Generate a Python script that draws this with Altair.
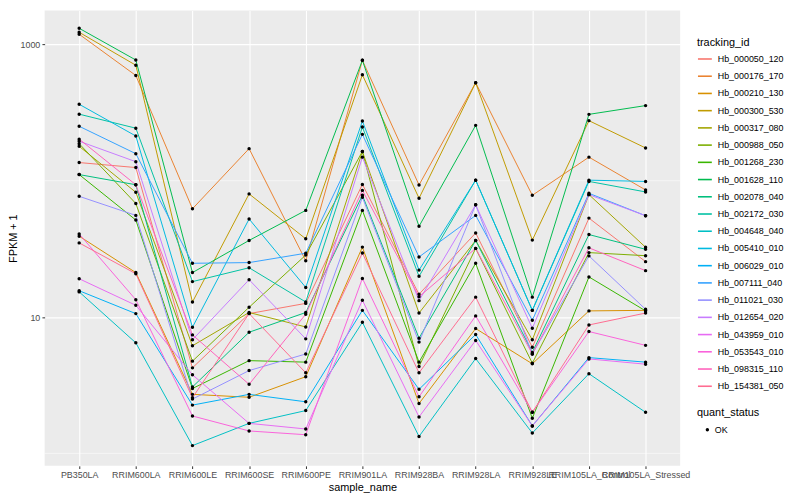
import altair as alt
import pandas as pd

samples = ["PB350LA", "RRIM600LA", "RRIM600LE", "RRIM600SE", "RRIM600PE", "RRIM901LA",
           "RRIM928BA", "RRIM928LA", "RRIM928LE", "RRIM105LA_Control", "RRIM105LA_Stressed"]

ids = ["Hb_000050_120", "Hb_000176_170", "Hb_000210_130", "Hb_000300_530", "Hb_000317_080",
       "Hb_000988_050", "Hb_001268_230", "Hb_001628_110", "Hb_002078_040", "Hb_002172_030",
       "Hb_004648_040", "Hb_005410_010", "Hb_006029_010", "Hb_007111_040", "Hb_011021_030",
       "Hb_012654_020", "Hb_043959_010", "Hb_053543_010", "Hb_098315_110", "Hb_154381_050"]

palette = ["#F8766D", "#EA8331", "#D89000", "#C09B00", "#A3A500", "#7CAE00", "#39B600",
           "#00BB4E", "#00BF7D", "#00C1A3", "#00BFC4", "#00BAE0", "#00B0F6", "#35A2FF",
           "#9590FF", "#C77CFF", "#E76BF3", "#FA62DB", "#FF62BC", "#FF6C91"]

# FPKM + 1 per sample (order of `samples`)
Hb_000050_120 = [136, 125, 4.24, 10.6, 12.6, 94.0, 14.7, 41.4, 6.00, 53.2, 25.5]
Hb_000176_170 = [1188, 592, 62.3, 172, 25.9, 765, 93.1, 524, 78.2, 149, 85.6]
Hb_000210_130 = [39.2, 21.2, 2.71, 2.58, 3.65, 32.6, 2.32, 8.24, 4.54, 11.1, 11.2]
Hb_000300_530 = [1228, 704, 12.9, 80.1, 37.5, 599, 74.4, 524, 36.7, 276, 174]
Hb_000317_080 = [179, 82.3, 6.16, 10.8, 8.46, 164, 10.7, 36.5, 6.81, 79.1, 32.5]
Hb_000988_050 = [187, 68.1, 4.75, 11.8, 28.5, 164, 4.34, 31.9, 4.59, 29.7, 28.2]
Hb_001268_230 = [111, 51.5, 2.99, 4.79, 4.67, 60.6, 4.67, 24.8, 1.81, 19.7, 11.1]
Hb_001628_110 = [1314, 769, 21.2, 36.5, 60.6, 765, 46.3, 255, 14.0, 307, 356]
Hb_002078_040 = [111, 93.5, 3.07, 7.74, 10.8, 78.2, 7.00, 36.5, 5.51, 40.3, 31.4]
Hb_002172_030 = [308, 243, 18.2, 23.0, 12.9, 248, 19.9, 101, 11.2, 98.9, 82.8]
Hb_004648_040 = [15.3, 6.47, 1.14, 1.66, 2.06, 9.15, 1.33, 4.96, 1.41, 3.84, 2.00]
Hb_005410_010 = [364, 213, 8.42, 52.4, 16.5, 274, 22.1, 101, 11.2, 101, 98.9]
Hb_006029_010 = [15.6, 10.6, 2.26, 2.71, 2.39, 11.2, 2.95, 7.45, 1.59, 5.04, 4.67]
Hb_007111_040 = [251, 158, 24.8, 25.1, 29.4, 219, 27.6, 55.7, 9.47, 80.9, 55.4]
Hb_011021_030 = [76.9, 55.7, 2.50, 4.05, 5.36, 75.6, 6.55, 66.6, 5.36, 28.1, 11.4]
Hb_012654_020 = [195, 138, 6.81, 18.8, 6.92, 149, 13.2, 66.6, 8.28, 79.1, 55.4]
Hb_043959_010 = [19.1, 12.2, 3.77, 1.66, 1.51, 13.3, 1.85, 6.74, 1.59, 4.93, 4.51]
Hb_053543_010 = [40.7, 13.4, 1.88, 1.46, 1.37, 19.2, 2.60, 10.2, 2.00, 7.83, 6.20]
Hb_098315_110 = [202, 93.5, 7.40, 3.21, 10.5, 85.0, 14.1, 31.9, 5.36, 32.2, 21.9]
Hb_154381_050 = [35.0, 20.8, 2.56, 10.6, 3.90, 29.5, 3.90, 14.0, 2.00, 8.75, 10.7]

series = [Hb_000050_120, Hb_000176_170, Hb_000210_130, Hb_000300_530, Hb_000317_080,
          Hb_000988_050, Hb_001268_230, Hb_001628_110, Hb_002078_040, Hb_002172_030,
          Hb_004648_040, Hb_005410_010, Hb_006029_010, Hb_007111_040, Hb_011021_030,
          Hb_012654_020, Hb_043959_010, Hb_053543_010, Hb_098315_110, Hb_154381_050]

major_breaks = [10, 1000]
minor_breaks = [1, 100]

rows = []
for tid, vals in zip(ids, series):
    for s, v in zip(samples, vals):
        rows.append({"tracking_id": tid, "sample_name": s, "fpkm1": v, "quant_status": "OK"})
df = pd.DataFrame(rows)
minor_df = pd.DataFrame({"v": minor_breaks})

FONT = "Liberation Sans"
yscale = alt.Scale(type="log", domain=[0.81, 1775], nice=False, zero=False)
xscale = alt.Scale(type="point", padding=0.61, domain=samples)

yaxis = alt.Axis(values=major_breaks, format="d", title="FPKM + 1", grid=True,
                 gridColor="white", gridWidth=1.1, domain=False, tickColor="#333333",
                 tickSize=2.7, labelColor="#4D4D4D", labelFontSize=9, labelPadding=2.2,
                 titleFontSize=11, titleFontWeight="normal", titleColor="black",
                 titlePadding=1, labelFont=FONT, titleFont=FONT)
xaxis = alt.Axis(title="sample_name", grid=True, gridColor="white", gridWidth=1.1,
                 domain=False, tickColor="#333333", tickSize=2.7, labelColor="#4D4D4D",
                 labelFontSize=9, labelPadding=2.2, labelAngle=0, labelOverlap=False,
                 labelLimit=300, titleFontSize=11, titleFontWeight="normal",
                 titleColor="black", titlePadding=2, labelFont=FONT, titleFont=FONT)

minor = alt.Chart(minor_df).mark_rule(color="white", strokeWidth=0.55).encode(
    y=alt.Y("v:Q", scale=yscale, axis=yaxis)
)

lines = alt.Chart(df).mark_line(strokeWidth=1).encode(
    x=alt.X("sample_name:N", scale=xscale, axis=xaxis, sort=samples),
    y=alt.Y("fpkm1:Q", scale=yscale, axis=yaxis),
    color=alt.Color("tracking_id:N", scale=alt.Scale(domain=ids, range=palette),
                    legend=alt.Legend(orient="none", legendX=659, legendY=27,
                                      title="tracking_id", symbolType="stroke",
                                      symbolSize=196, symbolStrokeWidth=1.6,
                                      rowPadding=4.4, labelFontSize=9, titleFontSize=11,
                                      titleFontWeight="normal", labelOffset=5,
                                      titlePadding=3, padding=0, labelFont=FONT,
                                      titleFont=FONT, labelColor="black")),
    detail="tracking_id:N",
)

points = alt.Chart(df).mark_point(filled=True, size=12, opacity=1).encode(
    x=alt.X("sample_name:N", scale=xscale, axis=xaxis, sort=samples),
    y=alt.Y("fpkm1:Q", scale=yscale, axis=yaxis),
    fill=alt.Fill("quant_status:N", scale=alt.Scale(domain=["OK"], range=["black"]),
                  legend=alt.Legend(orient="none", legendX=659, legendY=401,
                                    title="quant_status", symbolType="circle",
                                    symbolSize=12, symbolOffset=6, labelOffset=3,
                                    labelFontSize=9, titleFontSize=11,
                                    titleFontWeight="normal", titlePadding=7, padding=0,
                                    labelFont=FONT, titleFont=FONT, labelColor="black")),
)

chart = alt.layer(minor, lines, points).properties(
    width=642, height=460,
    padding={"left": 37, "top": 0, "right": 113, "bottom": 32},
    autosize=alt.AutoSizeParams(type="none"),
    background="white",
).configure_view(fill="#EBEBEB", stroke=None)

chart.save("out.html", embed_options={"renderer": "svg", "actions": False})
